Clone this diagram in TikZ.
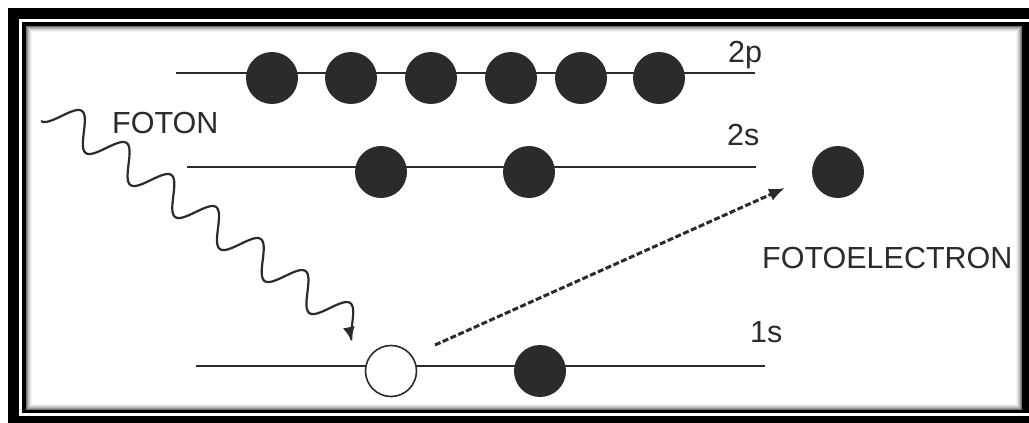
\documentclass[tikz,border=0pt]{standalone}
\usepackage{fontspec}
\setmainfont{Liberation Sans}
\usetikzlibrary{arrows.meta}
\definecolor{ink}{HTML}{2B2B2B}
\begin{document}
\begin{tikzpicture}[x=1pt,y=-1pt,
  level/.style={draw=ink, line width=2pt},
  electron/.style={circle, fill=ink, minimum size=52pt, inner sep=0pt},
  holestate/.style={circle, draw=ink, fill=white, line width=1.6pt, minimum size=51pt, inner sep=0pt},
  lbl/.style={anchor=base west, inner sep=0pt, text=ink, font=\fontsize{30.5}{36}\selectfont},
]
\useasboundingbox (0,0) rectangle (1029,423);
% frame
\fill[white] (0,0) rectangle (1029,423);
\fill[black] (8,8) rectangle (1029,423);
\fill[white] (19,19) rectangle (1029,416);
\fill[black] (22,22) rectangle (1029,413);
\fill[white] (26,26) rectangle (1022,410);
\foreach \i/\c in {0/55,1/40,2/28,3/18,4/10,5/4}
  \draw[black!\c, line width=1pt] (26.5+\i,26.5+\i) rectangle (1021.5-\i,409.5-\i);

% levels
\coordinate (p2a) at (176,73); \coordinate (p2b) at (755,73);
\coordinate (s2a) at (187,167); \coordinate (s2b) at (756,167);
\coordinate (s1a) at (196,366); \coordinate (s1b) at (765,366);
\draw[level] (p2a) -- (p2b);
\draw[level] (s2a) -- (s2b);
\draw[level] (s1a) -- (s1b);

% electrons
\foreach \x [count=\k] in {272,351,431,511,581,659}
  \node[electron] (p\k) at (\x,78) {};
\node[electron] (s1) at (381,172) {};
\node[electron] (s2) at (529,172) {};
\node[holestate] (hole) at (391,371) {};
\node[electron] (k1) at (540,371) {};
\node[electron] (free) at (838,172) {};

% labels
\node[lbl] (l2p) at (728,62) {2p};
\node[lbl] (l2s) at (727,145) {2s};
\node[lbl] (l1s) at (750,342) {1s};
\node[lbl] (foton) at (112,133) {FOTON};
\node[lbl] (fotoe) at (762,268) {FOTOELECTRON};

% photon wave
\draw[ink, line width=2.2pt, line join=round, -{Latex[length=14pt,width=12pt]}]
  plot[domain=-13.75:367, samples=300, smooth, variable=\t]
  ({61.5+0.813*\t+9.3*sin(6.545*\t)}, {116+0.582*\t-13*sin(6.545*\t)});

% photoelectron path
\coordinate (ds) at (435,345);
\coordinate (de) at (785,188);
\draw[ink, line width=3pt, dash pattern=on 6pt off 2.5pt, -{Latex[length=16pt,width=13pt]}] (ds) -- (de);
\end{tikzpicture}
\end{document}
